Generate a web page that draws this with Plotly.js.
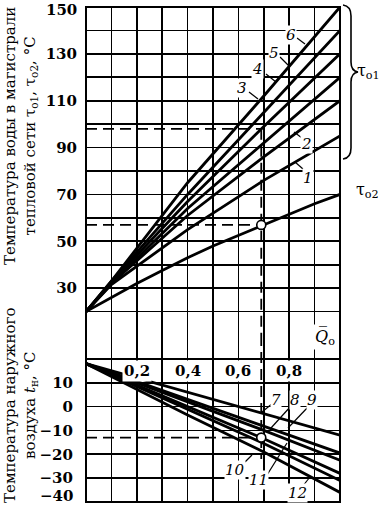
<!DOCTYPE html>
<html><head><meta charset="utf-8">
<script src="https://cdn.plot.ly/plotly-3.0.1.min.js"></script>
<style>html,body{margin:0;padding:0;background:#fff}#chart{width:379px;height:506px}</style>
</head><body><div id="chart"></div>
<script>
// ---- data ----
const qUpper = [0, 0.1, 0.4, 0.7, 1.0];
const tau01_line1 = [20, 31.5, 55, 76, 95];
const tau01_line2 = [20, 32, 61, 86, 110];
const tau01_line3 = [20, 32, 64, 92, 120];
const tau01_line4 = [20, 32.5, 67, 99, 130];
const tau01_line5 = [20, 33, 70, 105, 140];
const tau01_line6 = [20, 33, 75, 112, 150];
const qTau02 = [0, 0.1, 0.2, 0.3, 0.4, 0.5, 0.6, 0.7, 0.8, 0.9, 1.0];
const tau02 = [20, 26, 32, 37.5, 43, 48, 52.5, 57, 61.5, 66, 70];
const qLower = [0, 0.4, 0.7, 1.0];
const tn_line7 = [18, 6, -3, -12];
const tn_line8 = [18, 3, -8, -19.5];
const tn_line9 = [18, 2, -10, -22.5];
const tn_line10 = [18, 0, -13.5, -28];
const tn_line11 = [18, -1, -15.5, -31];
const tn_line12 = [18, -3.5, -19, -36];
const exampleQ = 0.69, exampleTau01 = 98, exampleTau02 = 57, exampleTn = -13, exampleTnEnd = -22;
const tauTicks = [30, 50, 70, 90, 110, 130];
const tauTickText = ['30', '50', '70', '90', '110', '130'];
const tauGridOnly = [10, 20, 40, 60, 80, 100, 120, 140, 150];
const tauTopLabel = '150';
const tnTicks = [-30, -20, -10, 0, 10];
const tnTickText = ['\u221230', '\u221220', '\u221210', '0', '10'];
const tnGridOnly = [-40, 20, 30];
const tnBottomLabel = '\u221240';
const qGrid = [0, 0.1, 0.2, 0.3, 0.4, 0.5, 0.6, 0.7, 0.8, 0.9, 1.0];
const qLabelVals = [0.2, 0.4, 0.6, 0.8];
const qLabelText = ['0,2', '0,4', '0,6', '0,8'];

// ---- helpers (pixel -> paper) ----
const L = 86, R = 340, T = 7, B = 502;
const PX = x => (x - L) / (R - L);
const PY = y => (B - y) / (B - T);
const FONT = 'DejaVu Serif';
const tickFont = {family: FONT, size: 15, color: '#000', weight: 'bold'};

const lineStyle = {color: '#000', width: 2.8};
const traces = [];
[tau01_line1, tau01_line2, tau01_line3, tau01_line4, tau01_line5, tau01_line6].forEach(v => {
  traces.push({x: qUpper, y: v, xaxis: 'x', yaxis: 'y2', mode: 'lines', line: lineStyle, hoverinfo: 'skip'});
});
traces.push({x: qTau02, y: tau02, xaxis: 'x', yaxis: 'y2', mode: 'lines', line: lineStyle, hoverinfo: 'skip'});
[tn_line7, tn_line8, tn_line9, tn_line10, tn_line11, tn_line12].forEach(v => {
  traces.push({x: qLower, y: v, xaxis: 'x', yaxis: 'y', mode: 'lines', line: lineStyle, hoverinfo: 'skip'});
});
const dashStyle = {color: '#000', width: 1.8, dash: '11px,6px'};
traces.push({x: [0, exampleQ], y: [exampleTau01, exampleTau01], xaxis: 'x', yaxis: 'y2', mode: 'lines', line: dashStyle});
traces.push({x: [0, exampleQ], y: [exampleTau02, exampleTau02], xaxis: 'x', yaxis: 'y2', mode: 'lines', line: dashStyle});
traces.push({x: [exampleQ, exampleQ], y: [exampleTau01, 10], xaxis: 'x', yaxis: 'y2', mode: 'lines', line: dashStyle});
traces.push({x: [exampleQ, exampleQ], y: [30, exampleTnEnd], xaxis: 'x', yaxis: 'y', mode: 'lines', line: dashStyle});
traces.push({x: [0, exampleQ], y: [exampleTn, exampleTn], xaxis: 'x', yaxis: 'y', mode: 'lines', line: dashStyle});
traces.push({x: [exampleQ], y: [exampleTau02], xaxis: 'x', yaxis: 'y2', mode: 'markers',
  marker: {size: 9, color: '#fff', line: {color: '#000', width: 1.6}}});
traces.push({x: [exampleQ], y: [exampleTn], xaxis: 'x', yaxis: 'y', mode: 'markers',
  marker: {size: 9, color: '#fff', line: {color: '#000', width: 1.6}}});

const gridCommon = {showgrid: true, gridcolor: '#000', gridwidth: 1.6, zeroline: false, ticks: '',
  showline: false, tickfont: tickFont, fixedrange: true};

const annotations = [];
function txt(x, y, text, opts) {
  annotations.push(Object.assign({xref: 'paper', yref: 'paper', x: PX(x), y: PY(y), text: text,
    showarrow: false, xanchor: 'center', yanchor: 'middle',
    font: {family: FONT, size: 15, color: '#000'}}, opts || {}));
}
// edge tick labels kept inside the picture
txt(78, 0, tauTopLabel, {xanchor: 'right', yanchor: 'top', borderpad: 0, font: tickFont});
txt(74, 506, tnBottomLabel, {xanchor: 'right', yanchor: 'bottom', borderpad: 0, font: tickFont});
// axis titles
txt(20, 136, 'Температура воды в магистрали<br>тепловой сети τ<sub>о1</sub>, τ<sub>о2</sub>, °C', {textangle: -90});
txt(20, 405, 'Температура наружного<br>воздуха <i>t</i><sub>н</sub>, °C', {textangle: -90});
// Q labels
qLabelVals.forEach((q, i) => {
  annotations.push({xref: 'x', yref: 'y', x: q, y: 15, text: qLabelText[i], showarrow: false,
    xanchor: 'center', yanchor: 'middle', bgcolor: '#fff', borderpad: 1, font: tickFont});
});
txt(325, 337, '<i>Q\u0305</i><sub>о</sub>', {bgcolor: '#fff', font: {family: FONT, size: 16, color: '#000'}});
txt(368, 72, 'τ<sub>о1</sub>', {font: {family: FONT, size: 16, color: '#000'}});
txt(367, 190, 'τ<sub>о2</sub>', {font: {family: FONT, size: 16, color: '#000'}});
// line numbers
const it = s => '<i>' + s + '</i>';
txt(291, 35, it('6'), {bgcolor: '#fff', borderpad: 0});
txt(274, 53, it('5'), {bgcolor: '#fff', borderpad: 0});
txt(257, 69, it('4'), {bgcolor: '#fff', borderpad: 0});
txt(242, 88, it('3'), {bgcolor: '#fff', borderpad: 0});
txt(306, 144, it('2'), {bgcolor: '#fff', borderpad: 0});
txt(308, 178, it('1'), {bgcolor: '#fff', borderpad: 0});
txt(276, 400, it('7'), {bgcolor: '#fff', borderpad: 0});
txt(295, 400, it('8'), {bgcolor: '#fff', borderpad: 0});
txt(312, 400, it('9'), {bgcolor: '#fff', borderpad: 0});
txt(235, 470, it('10'), {bgcolor: '#fff', borderpad: 0});
txt(258, 480, it('11'), {bgcolor: '#fff', borderpad: 0});
txt(297, 493, it('12'), {bgcolor: '#fff', borderpad: 0});

const shapes = [];
function seg(x0, y0, x1, y1, w) {
  shapes.push({type: 'line', xref: 'paper', yref: 'paper', x0: PX(x0), y0: PY(y0), x1: PX(x1), y1: PY(y1),
    line: {color: '#000', width: w || 1.2}, layer: 'above'});
}
// leaders
seg(297, 38, 305, 44);
seg(280, 57, 289, 66);
seg(266, 74, 276, 82);
seg(249, 92, 258, 99);
seg(302, 138, 294, 132);
seg(303, 169, 295, 162);
seg(273, 403, 262, 412);
seg(291, 406, 271, 428);
seg(309, 406, 288, 428);
seg(245, 462, 252, 455);
seg(267, 475, 287, 443);
seg(302, 487, 310, 477);
// border
shapes.push({type: 'rect', xref: 'paper', yref: 'paper', x0: 0, y0: 0, x1: 1, y1: 1,
  line: {color: '#000', width: 2}, layer: 'above'});
// brace
function P(x, y) { return PX(x).toFixed(4) + ',' + PY(y).toFixed(4); }
shapes.push({type: 'path', xref: 'paper', yref: 'paper', layer: 'above',
  path: 'M' + P(343, 5) + ' Q' + P(351, 6) + ' ' + P(351, 16) + ' L' + P(351, 62) +
        ' Q' + P(351, 71) + ' ' + P(358, 72) + ' Q' + P(351, 73) + ' ' + P(351, 82) +
        ' L' + P(351, 148) + ' Q' + P(351, 158) + ' ' + P(343, 159),
  line: {color: '#000', width: 1.6}});

const minorGrid = vals => ({tickmode: 'array', tickvals: vals, showgrid: true, gridcolor: '#000', gridwidth: 1.6, ticks: ''});
const layout = {
  width: 379, height: 506, margin: {l: L, r: 379 - R, t: T, b: 506 - B},
  paper_bgcolor: '#fff', plot_bgcolor: '#fff', showlegend: false,
  xaxis: Object.assign({}, gridCommon, {range: [0, 1], tickmode: 'array', tickvals: qGrid,
    showticklabels: false, anchor: 'y', domain: [0, 1]}),
  yaxis: Object.assign({}, gridCommon, {range: [-40, 30], tickmode: 'array', tickvals: tnTicks, ticktext: tnTickText,
    minor: minorGrid(tnGridOnly),
    domain: [0, (335 - 502) / (T - B)], anchor: 'x', ticklabelstandoff: 12}),
  yaxis2: Object.assign({}, gridCommon, {range: [10, 150], tickmode: 'array', tickvals: tauTicks, ticktext: tauTickText,
    minor: minorGrid(tauGridOnly),
    domain: [(335 - 502) / (T - B), 1], anchor: 'x', ticklabelstandoff: 8}),
  annotations: annotations, shapes: shapes
};
Plotly.newPlot('chart', traces, layout, {staticPlot: true, displayModeBar: false});
</script></body></html>
